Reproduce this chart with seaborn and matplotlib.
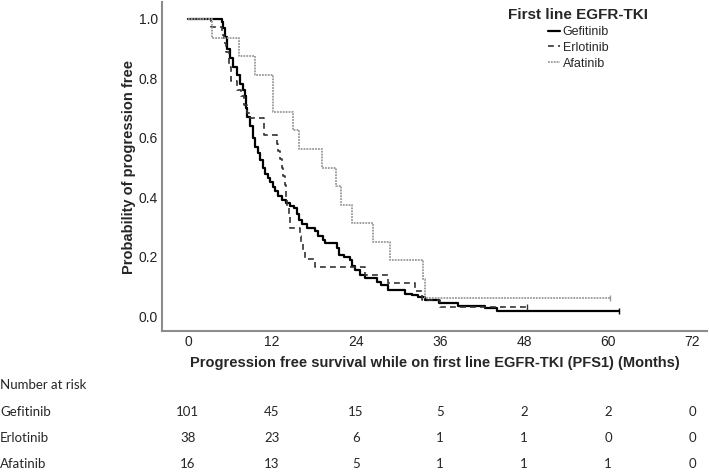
import matplotlib
matplotlib.use("Agg")
import matplotlib.pyplot as plt
import matplotlib.transforms as mtransforms
from matplotlib.lines import Line2D
import numpy as np
import pandas as pd
import seaborn as sns

# step curves (time in months, survival after the step)
gef_t = [0, 4.8, 5.0, 5.3, 5.6, 6.0, 6.5, 7.0, 7.4, 7.8, 8.1, 8.3, 8.5, 8.9, 9.3, 9.6,
         10.0, 10.3, 10.7, 11.0, 11.4, 11.7, 12.1, 12.4, 12.9, 13.4, 14.0, 14.6, 15.2,
         15.6, 15.8, 16.3, 17.0, 18.1, 18.6, 19.3, 19.6, 21.3, 21.6, 22.3, 23.1, 23.5,
         23.9, 24.5, 25.3, 27.0, 27.6, 28.6, 31.0, 32.0, 32.9, 33.9, 35.8, 38.6, 42.4,
         44.1, 61.5]
gef_s = [1.0, 0.99, 0.97, 0.94, 0.90, 0.87, 0.84, 0.81, 0.78, 0.76, 0.74, 0.70, 0.67,
         0.64, 0.60, 0.57, 0.55, 0.525, 0.50, 0.48, 0.465, 0.45, 0.435, 0.42, 0.405,
         0.39, 0.38, 0.372, 0.363, 0.345, 0.323, 0.31, 0.297, 0.288, 0.27, 0.256, 0.247,
         0.228, 0.205, 0.198, 0.19, 0.17, 0.155, 0.14, 0.127, 0.115, 0.105, 0.088, 0.076,
         0.071, 0.065, 0.054, 0.045, 0.034, 0.026, 0.017, 0.017]

erl_t = [0, 3.3, 4.8, 5.2, 5.5, 5.8, 6.2, 7.0, 7.6, 8.0, 8.5, 8.9, 10.8, 12.7, 12.9,
         13.2, 13.4, 13.6, 13.8, 14.0, 14.2, 14.4, 14.6, 16.0, 16.2, 16.5, 16.7, 18.1,
         25.3, 28.6, 32.4, 33.4, 36.0, 48.4]
erl_s = [1.0, 0.974, 0.947, 0.92, 0.89, 0.84, 0.79, 0.76, 0.74, 0.71, 0.684, 0.666,
         0.61, 0.58, 0.555, 0.53, 0.50, 0.47, 0.44, 0.40, 0.37, 0.34, 0.295, 0.27,
         0.245, 0.22, 0.194, 0.166, 0.14, 0.11, 0.085, 0.056, 0.031, 0.031]

afa_t = [0, 3.4, 7.3, 9.6, 12.2, 15.0, 15.9, 19.1, 21.2, 21.8, 23.5, 26.4, 28.8, 33.6,
         33.9, 60.2]
afa_s = [1.0, 0.9375, 0.875, 0.8125, 0.6875, 0.625, 0.5625, 0.5, 0.4375, 0.375, 0.3125,
         0.25, 0.1875, 0.125, 0.0625, 0.0625]

drugs = ["Gefitinib", "Erlotinib", "Afatinib"]
risk_times = [0, 12, 24, 36, 48, 60, 72]
risk_gef = [101, 45, 15, 5, 2, 2, 0]
risk_erl = [38, 23, 6, 1, 1, 0, 0]
risk_afa = [16, 13, 5, 1, 1, 1, 0]

sns.set_theme(style="white")
plt.rcParams['font.family'] = ['Liberation Sans', 'DejaVu Sans']

fig = plt.figure(figsize=(7.09, 4.72), dpi=100)
ax = fig.add_axes([0.2285, 0.2987, 0.7685, 0.697])

styles = {
    "Gefitinib": dict(color="black", linestyle="-", linewidth=1.6),
    "Erlotinib": dict(color="#333333", linestyle=(0, (3.5, 2.5)), linewidth=1.2),
    "Afatinib": dict(color="#9a9a9a", linestyle=(0, (1, 0.6)), linewidth=1.3),
}
curves = {"Gefitinib": (gef_t, gef_s), "Erlotinib": (erl_t, erl_s), "Afatinib": (afa_t, afa_s)}

for name in drugs:
    t, s = curves[name]
    df = pd.DataFrame({"time": t, "surv": s})
    sns.lineplot(data=df, x="time", y="surv", ax=ax, drawstyle="steps-post",
                 estimator=None, sort=False, **styles[name])
    # censor tick at the end of each curve
    ax.plot([t[-1]], [s[-1]], marker="|", markersize=4, color=styles[name]["color"],
            markeredgewidth=1.0)

ax.set_xlim(-3.7, 74.1)
ax.set_ylim(-0.05, 1.057)
ax.set_xticks(risk_times)
ax.set_yticks([0.0, 0.2, 0.4, 0.6, 0.8, 1.0])
ax.set_yticklabels([f"{v:.1f}" for v in [0.0, 0.2, 0.4, 0.6, 0.8, 1.0]])
ax.tick_params(axis="both", length=0, labelsize=10, colors="#222222", pad=3)
for sp in ["top", "right"]:
    ax.spines[sp].set_visible(False)
for sp in ["left", "bottom"]:
    ax.spines[sp].set_color("#8c8c8c")
    ax.spines[sp].set_linewidth(1.5)

ax.set_xlabel("Progression free survival while on first line EGFR-TKI (PFS1) (Months)",
              fontsize=10.5, fontweight="bold", labelpad=5)
ax.set_ylabel("Probability of progression free", fontsize=10.5, fontweight="bold",
              labelpad=2)

handles = [Line2D([0], [0], **styles[n]) for n in drugs]
leg = ax.legend(handles, drugs, title="First line EGFR-TKI", loc="upper left",
                bbox_to_anchor=(0.615, 1.015), frameon=False, fontsize=9,
                handlelength=1.0, handletextpad=0.2, labelspacing=0.3,
                title_fontproperties={"weight": "bold", "size": 11})
leg._legend_box.align = "center"

# number at risk table
trans = mtransforms.blended_transform_factory(ax.transData, fig.transFigure)
tfont = ['Lato', 'DejaVu Sans']
fig.text(0.0, 1 - 385 / 472, "Number at risk", fontsize=9.5, family=tfont,
         va="center", ha="left")
rows = [risk_gef, risk_erl, risk_afa]
row_y = [412, 438, 464]
for name, vals, yp in zip(drugs, rows, row_y):
    fig.text(0.0, 1 - yp / 472, name, fontsize=9.5, family=tfont, va="center", ha="left")
    for tx, v in zip(risk_times, vals):
        ax.text(tx, 1 - yp / 472, str(v), transform=trans, fontsize=9.5, family=tfont,
                va="center", ha="center")

fig.savefig("out.png", dpi=100)
